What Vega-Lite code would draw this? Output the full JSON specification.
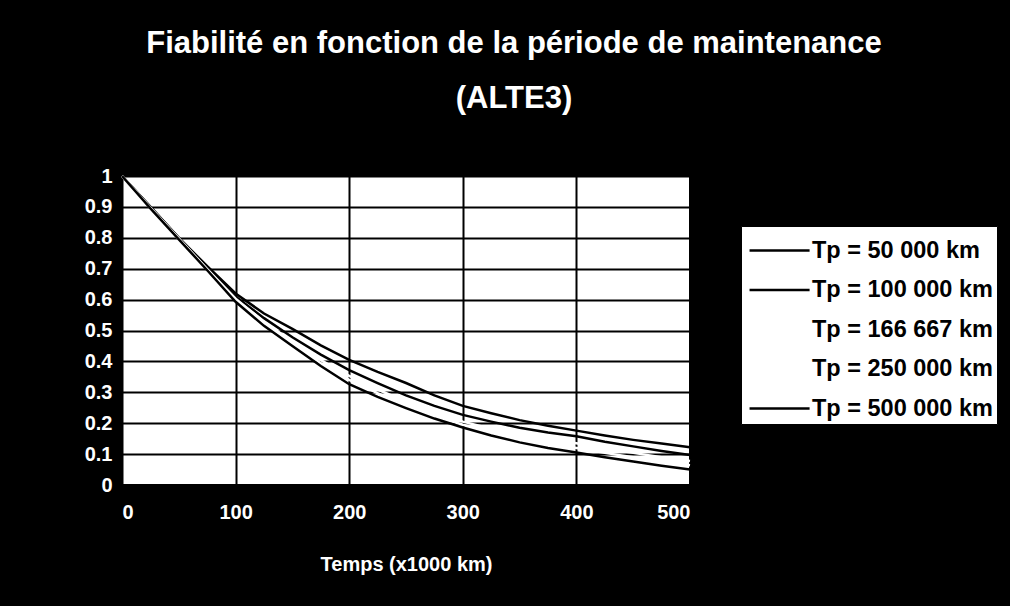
{
  "$schema": "https://vega.github.io/schema/vega-lite/v6.json",
  "width": 568,
  "height": 309,
  "autosize": "none",
  "padding": {"left": 122, "top": 176, "right": 320, "bottom": 121},
  "background": "black",
  "title": {
    "text": ["Fiabilité en fonction de la période de maintenance", "(ALTE3)"],
    "color": "white",
    "font": "Liberation Sans",
    "fontSize": 31,
    "fontWeight": "bold",
    "lineHeight": 55,
    "anchor": "middle",
    "dx": 108,
    "offset": 51
  },
  "config": {
    "view": {"fill": "white", "stroke": "black", "strokeWidth": 2},
    "font": "Liberation Sans"
  },
  "data": {
    "values": [
      {"t": 0, "r": 1, "s": "Tp = 50 000 km"},
      {"t": 25, "r": 0.9, "s": "Tp = 50 000 km"},
      {"t": 50, "r": 0.8, "s": "Tp = 50 000 km"},
      {"t": 75, "r": 0.708, "s": "Tp = 50 000 km"},
      {"t": 100, "r": 0.62, "s": "Tp = 50 000 km"},
      {"t": 125, "r": 0.555, "s": "Tp = 50 000 km"},
      {"t": 150, "r": 0.505, "s": "Tp = 50 000 km"},
      {"t": 175, "r": 0.452, "s": "Tp = 50 000 km"},
      {"t": 200, "r": 0.405, "s": "Tp = 50 000 km"},
      {"t": 225, "r": 0.366, "s": "Tp = 50 000 km"},
      {"t": 250, "r": 0.33, "s": "Tp = 50 000 km"},
      {"t": 275, "r": 0.29, "s": "Tp = 50 000 km"},
      {"t": 300, "r": 0.256, "s": "Tp = 50 000 km"},
      {"t": 325, "r": 0.232, "s": "Tp = 50 000 km"},
      {"t": 350, "r": 0.21, "s": "Tp = 50 000 km"},
      {"t": 375, "r": 0.192, "s": "Tp = 50 000 km"},
      {"t": 400, "r": 0.176, "s": "Tp = 50 000 km"},
      {"t": 425, "r": 0.16, "s": "Tp = 50 000 km"},
      {"t": 450, "r": 0.146, "s": "Tp = 50 000 km"},
      {"t": 475, "r": 0.134, "s": "Tp = 50 000 km"},
      {"t": 500, "r": 0.122, "s": "Tp = 50 000 km"},
      {"t": 0, "r": 1, "s": "Tp = 100 000 km"},
      {"t": 25, "r": 0.9, "s": "Tp = 100 000 km"},
      {"t": 50, "r": 0.8, "s": "Tp = 100 000 km"},
      {"t": 75, "r": 0.702, "s": "Tp = 100 000 km"},
      {"t": 100, "r": 0.61, "s": "Tp = 100 000 km"},
      {"t": 125, "r": 0.54, "s": "Tp = 100 000 km"},
      {"t": 150, "r": 0.478, "s": "Tp = 100 000 km"},
      {"t": 175, "r": 0.422, "s": "Tp = 100 000 km"},
      {"t": 200, "r": 0.372, "s": "Tp = 100 000 km"},
      {"t": 225, "r": 0.33, "s": "Tp = 100 000 km"},
      {"t": 250, "r": 0.29, "s": "Tp = 100 000 km"},
      {"t": 275, "r": 0.256, "s": "Tp = 100 000 km"},
      {"t": 300, "r": 0.227, "s": "Tp = 100 000 km"},
      {"t": 325, "r": 0.205, "s": "Tp = 100 000 km"},
      {"t": 350, "r": 0.185, "s": "Tp = 100 000 km"},
      {"t": 375, "r": 0.17, "s": "Tp = 100 000 km"},
      {"t": 400, "r": 0.158, "s": "Tp = 100 000 km"},
      {"t": 425, "r": 0.14, "s": "Tp = 100 000 km"},
      {"t": 450, "r": 0.125, "s": "Tp = 100 000 km"},
      {"t": 475, "r": 0.11, "s": "Tp = 100 000 km"},
      {"t": 500, "r": 0.097, "s": "Tp = 100 000 km"},
      {"t": 0, "r": 1, "s": "Tp = 166 667 km"},
      {"t": 25, "r": 0.898, "s": "Tp = 166 667 km"},
      {"t": 50, "r": 0.798, "s": "Tp = 166 667 km"},
      {"t": 75, "r": 0.699, "s": "Tp = 166 667 km"},
      {"t": 100, "r": 0.603, "s": "Tp = 166 667 km"},
      {"t": 125, "r": 0.528, "s": "Tp = 166 667 km"},
      {"t": 150, "r": 0.464, "s": "Tp = 166 667 km"},
      {"t": 175, "r": 0.404, "s": "Tp = 166 667 km"},
      {"t": 200, "r": 0.353, "s": "Tp = 166 667 km"},
      {"t": 225, "r": 0.309, "s": "Tp = 166 667 km"},
      {"t": 250, "r": 0.27, "s": "Tp = 166 667 km"},
      {"t": 275, "r": 0.236, "s": "Tp = 166 667 km"},
      {"t": 300, "r": 0.205, "s": "Tp = 166 667 km"},
      {"t": 325, "r": 0.182, "s": "Tp = 166 667 km"},
      {"t": 350, "r": 0.165, "s": "Tp = 166 667 km"},
      {"t": 375, "r": 0.148, "s": "Tp = 166 667 km"},
      {"t": 400, "r": 0.135, "s": "Tp = 166 667 km"},
      {"t": 425, "r": 0.118, "s": "Tp = 166 667 km"},
      {"t": 450, "r": 0.104, "s": "Tp = 166 667 km"},
      {"t": 475, "r": 0.09, "s": "Tp = 166 667 km"},
      {"t": 500, "r": 0.078, "s": "Tp = 166 667 km"},
      {"t": 0, "r": 1, "s": "Tp = 250 000 km"},
      {"t": 25, "r": 0.896, "s": "Tp = 250 000 km"},
      {"t": 50, "r": 0.796, "s": "Tp = 250 000 km"},
      {"t": 75, "r": 0.697, "s": "Tp = 250 000 km"},
      {"t": 100, "r": 0.598, "s": "Tp = 250 000 km"},
      {"t": 125, "r": 0.52, "s": "Tp = 250 000 km"},
      {"t": 150, "r": 0.456, "s": "Tp = 250 000 km"},
      {"t": 175, "r": 0.394, "s": "Tp = 250 000 km"},
      {"t": 200, "r": 0.34, "s": "Tp = 250 000 km"},
      {"t": 225, "r": 0.297, "s": "Tp = 250 000 km"},
      {"t": 250, "r": 0.258, "s": "Tp = 250 000 km"},
      {"t": 275, "r": 0.224, "s": "Tp = 250 000 km"},
      {"t": 300, "r": 0.195, "s": "Tp = 250 000 km"},
      {"t": 325, "r": 0.171, "s": "Tp = 250 000 km"},
      {"t": 350, "r": 0.15, "s": "Tp = 250 000 km"},
      {"t": 375, "r": 0.133, "s": "Tp = 250 000 km"},
      {"t": 400, "r": 0.12, "s": "Tp = 250 000 km"},
      {"t": 425, "r": 0.104, "s": "Tp = 250 000 km"},
      {"t": 450, "r": 0.09, "s": "Tp = 250 000 km"},
      {"t": 475, "r": 0.076, "s": "Tp = 250 000 km"},
      {"t": 500, "r": 0.064, "s": "Tp = 250 000 km"},
      {"t": 0, "r": 1, "s": "Tp = 500 000 km"},
      {"t": 25, "r": 0.895, "s": "Tp = 500 000 km"},
      {"t": 50, "r": 0.795, "s": "Tp = 500 000 km"},
      {"t": 75, "r": 0.695, "s": "Tp = 500 000 km"},
      {"t": 100, "r": 0.593, "s": "Tp = 500 000 km"},
      {"t": 125, "r": 0.515, "s": "Tp = 500 000 km"},
      {"t": 150, "r": 0.45, "s": "Tp = 500 000 km"},
      {"t": 175, "r": 0.385, "s": "Tp = 500 000 km"},
      {"t": 200, "r": 0.326, "s": "Tp = 500 000 km"},
      {"t": 225, "r": 0.285, "s": "Tp = 500 000 km"},
      {"t": 250, "r": 0.249, "s": "Tp = 500 000 km"},
      {"t": 275, "r": 0.215, "s": "Tp = 500 000 km"},
      {"t": 300, "r": 0.186, "s": "Tp = 500 000 km"},
      {"t": 325, "r": 0.16, "s": "Tp = 500 000 km"},
      {"t": 350, "r": 0.138, "s": "Tp = 500 000 km"},
      {"t": 375, "r": 0.12, "s": "Tp = 500 000 km"},
      {"t": 400, "r": 0.105, "s": "Tp = 500 000 km"},
      {"t": 425, "r": 0.09, "s": "Tp = 500 000 km"},
      {"t": 450, "r": 0.076, "s": "Tp = 500 000 km"},
      {"t": 475, "r": 0.062, "s": "Tp = 500 000 km"},
      {"t": 500, "r": 0.05, "s": "Tp = 500 000 km"}
    ]
  },
  "mark": {"type": "line", "strokeWidth": 2.5},
  "encoding": {
    "x": {
      "field": "t",
      "type": "quantitative",
      "scale": {"domain": [0, 500], "nice": false},
      "axis": {
        "values": [0, 100, 200, 300, 400, 500],
        "title": "Temps (x1000 km)",
        "titleColor": "white",
        "titleFontSize": 20,
        "titleFontWeight": "bold",
        "titlePadding": 32,
        "labelColor": "white",
        "labelFontSize": 20,
        "labelFontWeight": "bold",
        "labelPadding": 12,
        "gridColor": "black",
        "gridWidth": 2,
        "gridOpacity": 1,
        "domainColor": "black",
        "tickColor": "black"
      }
    },
    "y": {
      "field": "r",
      "type": "quantitative",
      "scale": {"domain": [0, 1], "nice": false},
      "axis": {
        "values": [0, 0.1, 0.2, 0.3, 0.4, 0.5, 0.6, 0.7, 0.8, 0.9, 1],
        "format": ".1~f",
        "title": null,
        "labelColor": "white",
        "labelFontSize": 20,
        "labelFontWeight": "bold",
        "labelPadding": 5,
        "gridColor": "black",
        "gridWidth": 2,
        "gridOpacity": 1,
        "domainColor": "black",
        "tickColor": "black"
      }
    },
    "color": {
      "field": "s",
      "type": "nominal",
      "sort": ["Tp = 50 000 km", "Tp = 100 000 km", "Tp = 166 667 km", "Tp = 250 000 km", "Tp = 500 000 km"],
      "scale": {
        "domain": ["Tp = 50 000 km", "Tp = 100 000 km", "Tp = 166 667 km", "Tp = 250 000 km", "Tp = 500 000 km"],
        "range": ["black", "black", "white", "white", "black"]
      },
      "legend": {
        "title": null,
        "orient": "none",
        "legendX": 619,
        "legendY": 50,
        "fillColor": "white",
        "strokeColor": "black",
        "padding": 4,
        "symbolType": "M-0.84,0H2.32",
        "symbolSize": 1444,
        "symbolStrokeWidth": 2.5,
        "rowPadding": 7.5,
        "labelOffset": 26,
        "labelFontSize": 23.5,
        "labelFontWeight": "bold",
        "labelColor": "black",
        "labelLimit": 300
      }
    }
  }
}
